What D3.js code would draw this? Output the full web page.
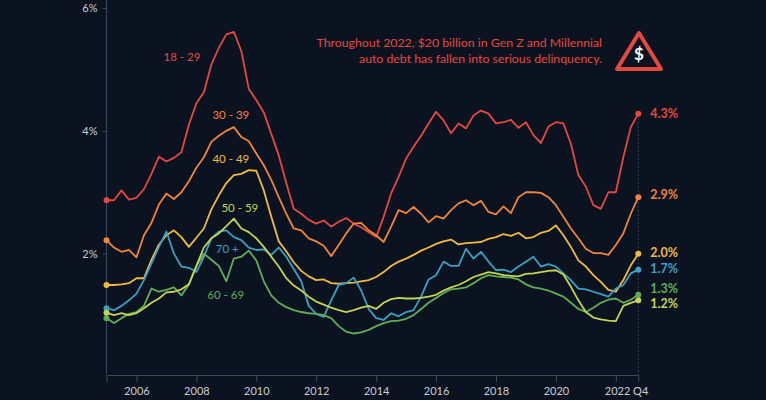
<!DOCTYPE html>
<html>
<head>
<meta charset="utf-8">
<script src="https://cdn.jsdelivr.net/npm/d3@7"></script>
<style>
  html, body { margin: 0; padding: 0; background: #0c1320; }
  svg { display: block; font-family: "Lato", "Open Sans", sans-serif; }
</style>
</head>
<body>
<svg id="chart" width="766" height="400"></svg>
<script>
// quarterly, 2005 Q1 .. 2022 Q4 (72 points)
const startYear = 2005;
const quarterCount = 72;
const quarters = d3.range(quarterCount).map((i) => startYear + i / 4);

const age1829 = [
  2.87, 2.87, 3.03, 2.88, 2.91, 3.05, 3.3, 3.58, 3.5, 3.56, 3.65, 4.1,
  4.45, 4.63, 5.08, 5.35, 5.57, 5.61, 5.3, 4.68, 4.5, 4.3, 3.95, 3.6,
  3.15, 2.73, 2.65, 2.55, 2.49, 2.54, 2.44, 2.52, 2.58, 2.49, 2.43, 2.35,
  2.27, 2.6, 2.98, 3.25, 3.55, 3.74, 3.92, 4.12, 4.31, 4.17, 3.96, 4.12,
  4.04, 4.25, 4.33, 4.28, 4.12, 4.14, 4.18, 4.05, 4.14, 3.93, 3.8, 4.07,
  4.14, 4.12, 3.79, 3.28, 3.09, 2.79, 2.73, 3.0, 3.0, 3.57, 4.06, 4.28,
];
const age3039 = [
  2.22, 2.1, 2.03, 2.06, 1.94, 2.3, 2.5, 2.8, 2.98, 2.89, 3.0, 3.18,
  3.4, 3.57, 3.82, 3.92, 4.0, 4.06, 3.9, 3.83, 3.63, 3.44, 3.2, 2.92,
  2.65, 2.41, 2.38, 2.25, 2.2, 2.13, 1.96, 2.14, 2.33, 2.49, 2.5, 2.38,
  2.3, 2.19, 2.44, 2.71, 2.66, 2.76, 2.65, 2.51, 2.61, 2.57, 2.71, 2.82,
  2.87, 2.79, 2.86, 2.68, 2.64, 2.77, 2.66, 2.92, 3.0, 3.0, 2.99, 2.92,
  2.79, 2.6, 2.41, 2.25, 2.08, 2.01, 2.01, 1.98, 2.14, 2.33, 2.65, 2.92,
];
const age4049 = [
  1.49, 1.49, 1.5, 1.52, 1.6, 1.6, 1.9, 2.15, 2.3, 2.38, 2.27, 2.11,
  2.26, 2.41, 2.72, 2.95, 3.15, 3.28, 3.3, 3.36, 3.35, 3.03, 2.6, 2.2,
  2.04, 1.86, 1.72, 1.63, 1.57, 1.58, 1.52, 1.51, 1.52, 1.53, 1.55, 1.57,
  1.62, 1.7, 1.8, 1.87, 1.92, 1.98, 2.05, 2.1, 2.16, 2.2, 2.23, 2.15,
  2.17, 2.18, 2.19, 2.24, 2.27, 2.32, 2.29, 2.34, 2.25, 2.27, 2.34, 2.37,
  2.46, 2.3, 2.11, 1.89, 1.79, 1.65, 1.54, 1.41, 1.38, 1.57, 1.81, 2.0,
];
const age5059 = [
  1.04, 1.0, 1.03, 1.0, 1.03, 1.11, 1.2, 1.27, 1.37, 1.38, 1.42, 1.5,
  1.8, 2.1, 2.25, 2.33, 2.45, 2.57, 2.41, 2.35, 2.25, 2.11, 1.95, 1.79,
  1.6, 1.48, 1.4, 1.3, 1.22, 1.17, 1.12, 1.08, 1.05, 1.08, 1.12, 1.15,
  1.1, 1.2, 1.26, 1.28, 1.27, 1.27, 1.28, 1.3, 1.33, 1.4, 1.45, 1.49,
  1.55, 1.62, 1.66, 1.7, 1.68, 1.65, 1.64, 1.63, 1.67, 1.68, 1.7, 1.72,
  1.73, 1.66, 1.46, 1.24, 1.05, 0.96, 0.93, 0.91, 0.9, 1.15, 1.2, 1.24,
];
const age6069 = [
  0.95, 0.87, 0.95, 1.02, 1.05, 1.15, 1.43, 1.38, 1.41, 1.45, 1.32, 1.5,
  1.8, 2.0, 1.9, 1.8, 1.55, 1.92, 1.95, 2.05, 1.89, 1.55, 1.32, 1.2,
  1.13, 1.08, 1.05, 1.03, 1.02, 1.0, 0.95, 0.82, 0.73, 0.7, 0.72, 0.76,
  0.82, 0.87, 0.9, 0.91, 0.94, 1.0, 1.1, 1.2, 1.28, 1.36, 1.42, 1.43,
  1.45, 1.52, 1.6, 1.65, 1.63, 1.62, 1.61, 1.58, 1.5, 1.45, 1.43, 1.4,
  1.35, 1.3, 1.2, 1.1, 1.05, 1.12, 1.2, 1.25, 1.27, 1.2, 1.25, 1.33,
];
const age70plus = [
  1.11, 1.08, 1.15, 1.24, 1.35, 1.57, 1.84, 2.11, 2.36, 2.0, 1.79, 1.77,
  1.7, 1.95, 2.25, 2.36, 2.38, 2.27, 2.22, 2.1, 2.06, 2.07, 1.98, 2.1,
  1.95, 1.75, 1.55, 1.15, 1.02, 0.97, 1.24, 1.49, 1.52, 1.61, 1.4, 1.1,
  0.95, 0.92, 1.03, 0.98, 1.05, 1.08, 1.3, 1.58, 1.65, 1.87, 1.8, 1.8,
  2.08, 1.92, 2.03, 1.87, 1.73, 1.74, 1.7, 1.79, 1.87, 1.95, 1.79, 1.83,
  1.79, 1.68, 1.57, 1.43, 1.42, 1.38, 1.34, 1.3, 1.43, 1.49, 1.68, 1.74,
];

const seriesNames = ["18 - 29", "30 - 39", "40 - 49", "50 - 59", "60 - 69", "70 +"];
const seriesValues = [age1829, age3039, age4049, age5059, age6069, age70plus];
const yTicks = [2, 4, 6];
const xTicks = [2006, 2008, 2010, 2012, 2014, 2016, 2018, 2020, 2022];
const noteLines = [
  "Throughout 2022, $20 billion in Gen Z and Millennial",
  "auto debt has fallen into serious delinquency.",
];

// styling, kept apart from the values
const colors = ["#e5483f", "#ef843b", "#f2b940", "#c3d352", "#5fae57", "#3aa0c4"];
// where each age label sits, in data units (year, percent)
const namePos = [
  [2007.52, 5.2],
  [2009.15, 4.26],
  [2009.15, 3.54],
  [2009.45, 2.74],
  [2008.98, 1.33],
  [2009.03, 2.07],
];
// vertical nudge (px) of the end labels so they do not collide
const endNudge = [0, -2.5, -1, 3, -6.5, -1.5];

const svg = d3.select("#chart");
const width = 766;
const height = 400;
const margin = { left: 106.5, right: 638.3, top: 8, bottom: 376.5 };

svg.append("rect").attr("width", width).attr("height", height).attr("fill", "#0c1320");

const x = d3.scaleLinear().domain([startYear, 2022.75]).range([margin.left, margin.right]);
const y = d3.scaleLinear().domain([0, 6]).range([margin.bottom, margin.top]);

const axisColor = "#3a4a5e";
const tickText = "#c9ced6";

// y axis
const yAxis = svg
  .append("g")
  .attr("transform", `translate(${margin.left},0)`)
  .call(d3.axisLeft(y).tickValues(yTicks).tickSize(4).tickPadding(5).tickFormat((d) => `${d}%`));
yAxis.select(".domain").attr("stroke", axisColor).attr("d", `M0,0V${margin.bottom - 2}`);
yAxis.selectAll(".tick line").attr("stroke", axisColor);
yAxis
  .selectAll(".tick text")
  .attr("fill", tickText)
  .attr("font-size", 11)
  .attr("font-family", "Lato, sans-serif");

// x axis
const xAxisY = 375;
const xAxis = svg
  .append("g")
  .attr("transform", `translate(0,${xAxisY})`)
  .call(d3.axisBottom(x).tickValues(xTicks).tickSize(7).tickPadding(5).tickFormat(d3.format("d")));
xAxis.select(".domain").attr("stroke", axisColor);
xAxis.selectAll(".tick line").attr("stroke", axisColor);
xAxis
  .selectAll(".tick text")
  .attr("fill", tickText)
  .attr("font-size", 11)
  .attr("font-family", "Lato, sans-serif");
xAxis
  .selectAll(".tick")
  .filter((d) => d === 2022)
  .select("text")
  .attr("text-anchor", "start")
  .attr("dx", "-1.05em")
  .text("2022 Q4");

// dotted marker at the last quarter
const lastX = x(quarters[quarterCount - 1]);
svg
  .append("line")
  .attr("x1", lastX)
  .attr("x2", lastX)
  .attr("y1", y(d3.max(seriesValues, (s) => s[s.length - 1])))
  .attr("y2", xAxisY)
  .attr("stroke", "#2b3c5a")
  .attr("stroke-width", 1.2)
  .attr("stroke-dasharray", "2,2");

const line = d3
  .line()
  .x((d, i) => x(quarters[i]))
  .y((d) => y(d));

const drawOrder = [0, 1, 2, 5, 4, 3];
const lines = svg.append("g");
drawOrder.forEach((k) => {
  const values = seriesValues[k];
  lines
    .append("path")
    .attr("d", line(values))
    .attr("fill", "none")
    .attr("stroke", colors[k])
    .attr("stroke-width", 1.8)
    .attr("stroke-linejoin", "round");
  [0, values.length - 1].forEach((i) => {
    lines
      .append("circle")
      .attr("cx", x(quarters[i]))
      .attr("cy", y(values[i]))
      .attr("r", 3)
      .attr("fill", colors[k]);
  });
});

// age labels
seriesNames.forEach((name, k) => {
  svg
    .append("text")
    .attr("x", x(namePos[k][0]))
    .attr("y", y(namePos[k][1]))
    .attr("dy", "0.35em")
    .attr("text-anchor", "middle")
    .attr("fill", colors[k])
    .attr("font-size", 11.5)
    .text(name);
});

// end values
const pct = d3.format(".1f");
seriesValues.forEach((values, k) => {
  const last = values[values.length - 1];
  svg
    .append("text")
    .attr("x", lastX + 12)
    .attr("y", y(last) + endNudge[k])
    .attr("dy", "0.35em")
    .attr("fill", colors[k])
    .attr("font-size", 12.5)
    .attr("font-weight", 700)
    .text(`${pct(last)}%`);
});

// note
const note = svg
  .append("text")
  .attr("text-anchor", "end")
  .attr("fill", "#e5483f")
  .attr("font-size", 12.3);
noteLines.forEach((t, i) => {
  note
    .append("tspan")
    .attr("x", 602)
    .attr("y", 47 + i * 16)
    .text(t);
});

// warning icon
const icon = svg.append("g").attr("transform", "translate(639,51)");
icon
  .append("path")
  .attr("d", "M0,-18 L22,18 L-22,18 Z")
  .attr("fill", "none")
  .attr("stroke", "#e5483f")
  .attr("stroke-width", 4)
  .attr("stroke-linejoin", "round");
icon
  .append("text")
  .attr("y", 9)
  .attr("text-anchor", "middle")
  .attr("fill", "#ffffff")
  .attr("font-size", 17)
  .attr("font-weight", 700)
  .text("$");
</script>
</body>
</html>
